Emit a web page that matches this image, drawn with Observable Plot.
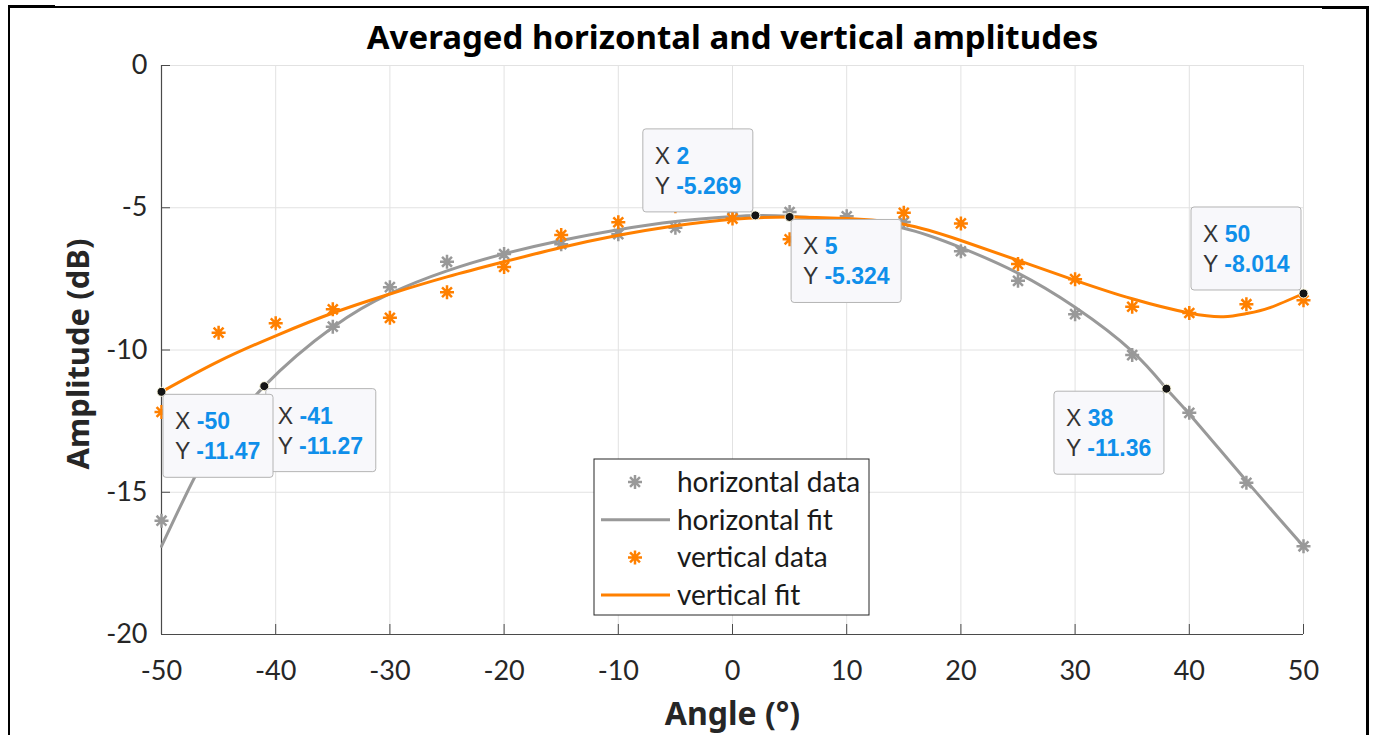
<!DOCTYPE html>
<html>
<head>
<meta charset="utf-8">
<script src="https://cdn.jsdelivr.net/npm/d3@7"></script>
<script src="https://cdn.jsdelivr.net/npm/@observablehq/plot@0.6"></script>
<style>
  body { margin: 0; background: #fff; }
  #wrap { position: relative; width: 1375px; height: 735px; overflow: hidden; }
  .edge { position: absolute; background: #000; }
</style>
</head>
<body>
<div id="wrap">
  <div id="chart"></div>
  <div class="edge" style="left:8px; top:6px; width:1361px; height:2px"></div>
  <div class="edge" style="left:8px; top:5px; width:47px; height:3px"></div>
  <div class="edge" style="left:1322px; top:6px; width:47px; height:3px"></div>
  <div class="edge" style="left:8px; top:6px; width:2px; height:740px"></div>
  <div class="edge" style="left:1366px; top:6px; width:3px; height:740px"></div>
</div>
<script>
// measured angles (deg)
const angles = [-50, -45, -40, -35, -30, -25, -20, -15, -10, -5, 0, 5, 10, 15, 20, 25, 30, 35, 40, 45, 50]
const hData = [-16.0, -13.4, -11.6, -9.18, -7.79, -6.90, -6.63, -6.28, -5.93, -5.70, -5.05, -5.15, -5.30, -5.50, -6.53, -7.57, -8.74, -10.18, -12.21, -14.67, -16.90]
const vData = [-12.18, -9.39, -9.06, -8.57, -8.87, -7.97, -7.08, -5.96, -5.51, -4.95, -5.38, -6.11, -5.80, -5.18, -5.55, -6.98, -7.51, -8.48, -8.70, -8.39, -8.25]

// fitted curves
const hFitAngles = [-50, -47, -45, -41, -35, -30, -25, -20, -15, -10, -5, 0, 2, 5, 10, 15, 20, 25, 30, 35, 38, 40, 45, 50]
const hFit = [-16.9, -14.4, -13.2, -11.27, -9.2, -8.02, -7.22, -6.62, -6.15, -5.77, -5.48, -5.31, -5.269, -5.30, -5.45, -5.72, -6.4, -7.3, -8.5, -10.05, -11.36, -12.25, -14.6, -16.9]
const vFitAngles = [-50, -45, -40, -35, -30, -25, -20, -15, -10, -5, 0, 5, 10, 15, 20, 25, 30, 35, 40, 43, 45, 47, 50]
const vFit = [-11.47, -10.4, -9.5, -8.7, -8.03, -7.43, -6.9, -6.4, -5.97, -5.63, -5.4, -5.324, -5.38, -5.58, -6.15, -6.85, -7.55, -8.2, -8.7, -8.83, -8.72, -8.52, -8.014]

// data tips
const tipX = [-41, -50, 2, 5, 38, 50]
const tipY = [-11.27, -11.47, -5.269, -5.324, -11.36, -8.014]
const tipSide = ["se", "se", "nw", "se", "sw", "nw"]

const xTicks = [-50, -40, -30, -20, -10, 0, 10, 20, 30, 40, 50]
const yTicks = [-20, -15, -10, -5, 0]

const legendLabels = ["horizontal data", "horizontal fit", "vertical data", "vertical fit"]

const gray = "#999999"
const orange = "#ff8000"
const font = "Lato, 'Noto Sans', sans-serif"
const boldFont = "'Noto Sans', Lato, sans-serif"

// MATLAB style '*' marker: four crossing strokes
const asterisk = {
    draw(ctx, size) {
        const r = Math.sqrt(size / Math.PI)
        for (let k = 0; k < 4; k++) {
            const a = k * Math.PI / 4
            ctx.moveTo(r * Math.cos(a), r * Math.sin(a))
            ctx.lineTo(-r * Math.cos(a), -r * Math.sin(a))
        }
    }
}

const points = angles.map((a, i) => ({ a, h: hData[i], v: vData[i] }))
const hLine = hFitAngles.map((a, i) => ({ a, y: hFit[i] }))
const vLine = vFitAngles.map((a, i) => ({ a, y: vFit[i] }))
const tips = tipX.map((x, i) => ({ x, y: tipY[i], side: tipSide[i] }))

const W = 1375, H = 735, mL = 161, mR = 72, mT = 65, mB = 101

const chart = Plot.plot({
    width: W,
    height: H,
    marginLeft: mL,
    marginRight: mR,
    marginTop: mT,
    marginBottom: mB,
    x: { domain: [-50, 50] },
    y: { domain: [-20, 0] },
    style: { fontFamily: font, color: "#262626", background: "transparent" },
    marks: [
        Plot.gridX(xTicks, { stroke: "#e2e2e2", strokeOpacity: 1 }),
        Plot.gridY(yTicks, { stroke: "#e2e2e2", strokeOpacity: 1 }),
        Plot.ruleX([-50], { stroke: "#4a4a4a", strokeWidth: 1.2 }),
        Plot.ruleY([-20], { stroke: "#4a4a4a", strokeWidth: 1.2 }),
        // inward ticks
        Plot.ruleX(xTicks, { insetTop: H - mT - mB - 10, stroke: "#4a4a4a" }),
        Plot.ruleY(yTicks, { insetRight: W - mL - mR - 9, stroke: "#4a4a4a" }),
        Plot.axisX(xTicks, { tickSize: 0, tickPadding: 26, fontSize: 27, label: null, tickFormat: d => String(d) }),
        Plot.axisY(yTicks, { tickSize: 0, tickPadding: 14, fontSize: 27, label: null, tickFormat: d => String(d) }),

        Plot.dot(points, { x: "a", y: "h", symbol: asterisk, r: 7, stroke: gray, strokeWidth: 2.5 }),
        Plot.line(hLine, { x: "a", y: "y", curve: "natural", stroke: gray, strokeWidth: 3 }),
        Plot.dot(points, { x: "a", y: "v", symbol: asterisk, r: 7, stroke: orange, strokeWidth: 2.5 }),
        Plot.line(vLine, { x: "a", y: "y", curve: "natural", stroke: orange, strokeWidth: 3 }),

        Plot.dot(tips, { x: "x", y: "y", r: 4.5, fill: "#151515", stroke: "#fffbe0", strokeWidth: 1, ariaLabel: "tipdots" }),

        Plot.text(["Averaged horizontal and vertical amplitudes"], {
            frameAnchor: "top", lineAnchor: "middle", dy: -27, fontSize: 33, fontWeight: "bold",
            fontFamily: boldFont, fill: "#000"
        }),
        Plot.text(["Angle (°)"], {
            frameAnchor: "bottom", lineAnchor: "middle", dy: 80, fontSize: 32, fontWeight: "bold",
            fontFamily: boldFont, fill: "#262626"
        }),
        Plot.text(["Amplitude (dB)"], {
            frameAnchor: "left", textAnchor: "middle", lineAnchor: "middle", dx: -82, dy: 4, rotate: -90,
            fontSize: 31, fontWeight: "bold", fontFamily: boldFont, fill: "#262626"
        }),
    ]
})

d3.select('#chart').append(() => chart)

const sx = chart.scale("x"), sy = chart.scale("y")
const svg = d3.select(chart)

// legend box
const lg = svg.append("g").attr("text-anchor", "start")
lg.append("rect").attr("x", 594).attr("y", 459).attr("width", 275).attr("height", 156)
    .attr("fill", "#fff").attr("stroke", "#262626").attr("stroke-width", 1)
legendLabels.forEach((label, i) => {
    const cy = 482 + i * 37.7
    const c = i < 2 ? gray : orange
    if (i % 2 === 0) {
        lg.append("path").attr("d", d3.symbol(asterisk, Math.PI * 49)())
            .attr("transform", `translate(635,${cy})`)
            .attr("fill", "none").attr("stroke", c).attr("stroke-width", 2.5)
    } else {
        lg.append("line").attr("x1", 601).attr("x2", 670).attr("y1", cy).attr("y2", cy)
            .attr("stroke", c).attr("stroke-width", 3)
    }
    lg.append("text").attr("x", 677).attr("y", cy).attr("dy", "0.35em")
        .attr("font-size", 28).attr("fill", "#1a1a1a").text(label)
})

// data tip boxes
const tipFont = "'Liberation Sans', Arial, sans-serif"
const bw = 110, bh = 83
tips.forEach(t => {
    const px = sx.apply(t.x), py = sy.apply(t.y)
    const left = t.side.includes("e") ? px + 2 : px - 2 - bw
    const top = t.side.startsWith("s") ? py + 3 : py - 3 - bh
    const g = svg.append("g").attr("transform", `translate(${left},${top})`).attr("text-anchor", "start")
    g.append("rect").attr("width", bw).attr("height", bh).attr("rx", 3)
        .attr("fill", "#f8f8fb").attr("stroke", "#b4b4b4").attr("stroke-width", 1)
    ;[["X", t.x, 35], ["Y", t.y, 65]].forEach(([k, v, y]) => {
        const tx = g.append("text").attr("x", 12).attr("y", y)
            .attr("font-family", tipFont).attr("font-size", 23)
        tx.append("tspan").attr("fill", "#333").text(k + " ")
        tx.append("tspan").attr("fill", "#0f8fea").attr("font-weight", "bold").text(String(v))
    })
})
svg.select('g[aria-label="tipdots"]').raise()
</script>
</body>
</html>
